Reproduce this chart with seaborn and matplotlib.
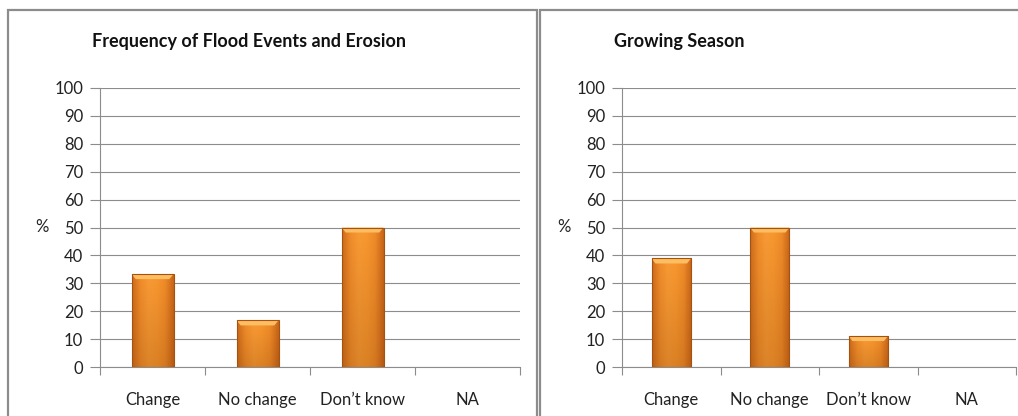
import numpy as np
import pandas as pd
import matplotlib
matplotlib.use("Agg")
import matplotlib.pyplot as plt
from matplotlib.patches import Rectangle
from matplotlib.colors import LinearSegmentedColormap
import seaborn as sns

categories = ["Change", "No change", "Don\u2019t know", "NA"]
flood_values = [33.3, 16.7, 50.0, 0.0]
season_values = [38.9, 50.0, 11.1, 0.0]
titles = ["Frequency of Flood Events and Erosion", "Growing Season"]
yticks = [0, 10, 20, 30, 40, 50, 60, 70, 80, 90, 100]

sns.set_theme(style="white")
plt.rcParams["font.family"] = ["Lato", "DejaVu Sans"]

W, H = 1018, 416
fig = plt.figure(figsize=(W / 100, H / 100), dpi=100)
fig.patch.set_facecolor("white")

def fx(px):
    return px / W

def fy(py):
    return 1 - py / H

# panel frames
for x0, x1 in [(8, 537), (540, 1030)]:
    fig.patches.append(Rectangle((fx(x0), fy(430)), fx(x1 - x0), fy(10) - fy(430),
                                 transform=fig.transFigure, fill=False,
                                 edgecolor="#8c8c8c", linewidth=1.6, zorder=0))

bar_cmap = LinearSegmentedColormap.from_list(
    "bevel", ["#cf6c1c", "#f08d2b", "#f99b35", "#f8972f", "#ef8b29", "#c96519"])

def shade_bars(ax):
    for p in ax.patches:
        x, y = p.get_x(), p.get_y()
        w, h = p.get_width(), p.get_height()
        if h <= 0:
            continue
        horiz = np.linspace(0, 1, 64)[None, :]
        vert = np.linspace(0, 1, 64)[:, None]
        img = horiz * np.ones_like(vert)
        im = ax.imshow(img, cmap=bar_cmap, aspect="auto",
                       extent=(x, x + w, y, y + h), origin="lower", zorder=3)
        im.set_clip_path(p)
        # darker lower part
        shade = np.zeros((64, 1, 4))
        shade[..., 0] = 0.45
        shade[..., 1] = 0.2
        shade[..., 3] = np.linspace(0.22, 0.0, 64)[:, None]
        ax.imshow(shade, aspect="auto", extent=(x, x + w, y, y + h),
                  origin="lower", zorder=3.5).set_clip_path(p)
        # lighter top bevel
        bevel = min(1.8, h * 0.3)
        ax.fill([x, x + w, x + w - w * 0.1, x + w * 0.1],
                [y + h, y + h, y + h - bevel, y + h - bevel],
                color="#fdbd62", zorder=4, lw=0)
        p.set_facecolor("none")
        p.set_edgecolor("#a4520f")
        p.set_linewidth(0.8)
        p.set_zorder(5)
    ax.set_xlim(-0.5, 3.5)

axes_px = [(100, 520), (622, 1016)]
series = [flood_values, season_values]
for (x0, x1), vals, title in zip(axes_px, series, titles):
    ax = fig.add_axes([fx(x0), fy(367), fx(x1 - x0), fy(88) - fy(367)])
    df = pd.DataFrame({"category": categories, "percent": vals})
    sns.barplot(data=df, x="category", y="percent", ax=ax, width=0.4,
                color="#f7962d", saturation=1)
    shade_bars(ax)
    ax.set_ylim(0, 100)
    ax.set_yticks(yticks)
    ax.set_yticklabels([str(t) for t in yticks], fontsize=12, color="#222222")
    ax.set_xticks(range(len(categories)))
    ax.set_xticklabels(categories, fontsize=12, color="#222222")
    ax.set_xticks(np.arange(-0.5, 4.0, 1.0), minor=True)
    ax.tick_params(axis="x", which="major", length=0, pad=18)
    ax.tick_params(axis="x", which="minor", length=6, width=0.8, color="#8c8c8c",
                   direction="out", bottom=True)
    ax.tick_params(axis="y", length=7, width=0.8, color="#8c8c8c",
                   direction="out", left=True, pad=5)
    ax.yaxis.grid(True, color="#8c8c8c", linewidth=0.8)
    ax.set_axisbelow(True)
    for s in ["top", "right"]:
        ax.spines[s].set_visible(False)
    for s in ["left", "bottom"]:
        ax.spines[s].set_color("#8c8c8c")
        ax.spines[s].set_linewidth(0.8)
    ax.set_xlabel("")
    ax.set_ylabel("%", rotation=0, fontsize=12, color="#222222", labelpad=9,
                  va="center")
    fig.text(fx(x0 - 8), fy(42), title, fontsize=13, fontweight="bold",
             color="#111111", va="center", ha="left")

fig.savefig("out.png", dpi=100, facecolor="white")
